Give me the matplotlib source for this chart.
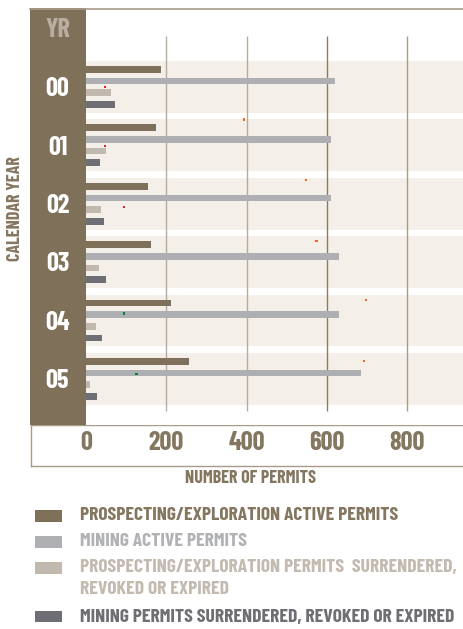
import matplotlib
matplotlib.use("Agg")
import matplotlib.pyplot as plt
from matplotlib.lines import Line2D
from matplotlib.patches import Rectangle

# ---------------- data ----------------
years = ["00", "01", "02", "03", "04", "05"]
prospecting_active = [187, 174, 154, 162, 212, 256]
mining_active = [620, 610, 610, 630, 630, 685]
prospecting_surrendered = [62, 50, 37, 32, 25, 10]
mining_surrendered = [72, 35, 45, 50, 40, 27]
x_ticks = [0, 200, 400, 600, 800]

series_labels = [
    "PROSPECTING/EXPLORATION ACTIVE PERMITS",
    "MINING ACTIVE PERMITS",
    "PROSPECTING/EXPLORATION PERMITS  SURRENDERED,\nREVOKED OR EXPIRED",
    "MINING PERMITS SURRENDERED, REVOKED OR EXPIRED",
]

# small stray marks visible in the source graphic
dot_row = [0, 1, 1, 2, 2, 3, 4, 4, 5, 5]
dot_offset = [0.0, -0.44, 0.01, -0.41, 0.06, -0.36, -0.35, -0.12, -0.31, -0.08]
dot_value = [47, 393, 47, 548, 95, 574, 698, 95, 692, 126]
dot_color = ["#e8192c", "#f26522", "#e8192c", "#f26522", "#e8192c",
             "#f26522", "#f26522", "#00843d", "#f26522", "#00843d"]

# ---------------- style ----------------
BROWN = "#7f705a"
C_PA = "#7f705a"
C_MA = "#aeafb3"
C_PS = "#c1b8ae"
C_MS = "#6e6f74"
BAND = "#f4efe9"
FONT = ["Barlow Condensed", "DejaVu Sans"]
WT = 700

W, H = 464, 629
fig = plt.figure(figsize=(W / 100, H / 100), dpi=100)
fig.patch.set_facecolor("white")


def fx(px):
    return px / W


def fy(py):
    return 1 - py / H


ROW = 58.4          # px per row
Y0 = 86.9           # px centre of first row
top_px, bot_px = 8, 425
ylim = ((bot_px - Y0) / ROW, (top_px - Y0) / ROW)
xmax = (W - 86) / 80.3 * 200

# main axes
ax = fig.add_axes([fx(86), fy(bot_px), 1 - fx(86), (bot_px - top_px) / H])
ax.set_xlim(0, xmax)
ax.set_ylim(*ylim)
ax.set_facecolor("white")
for s in ax.spines.values():
    s.set_visible(False)

n = len(years)
rows = list(range(n))
for r in rows:
    ax.axhspan(r - 0.443, r + 0.443, xmin=0, xmax=1, color=BAND, lw=0, zorder=0)

grid_cols = {200: "#b7ab9d", 400: "#b7ab9d", 600: "#8a7b66", 800: "#a89b8a"}
g_top = (36 - Y0) / ROW
g_bot = (411 - Y0) / ROW
for t in x_ticks[1:]:
    ax.vlines(t, g_top, g_bot, color=grid_cols[t], lw=1.0, zorder=1)

offsets = [-0.30, -0.10, 0.10, 0.30]
bh = 0.115
series = [prospecting_active, mining_active, prospecting_surrendered, mining_surrendered]
colors = [C_PA, C_MA, C_PS, C_MS]
for vals, off, c in zip(series, offsets, colors):
    ax.barh([r + off for r in rows], vals, height=bh, color=c, lw=0, zorder=2)

ax.scatter(dot_value, [r + o for r, o in zip(dot_row, dot_offset)],
           s=3, marker="s", c=dot_color, lw=0, zorder=3)

ax.set_yticks([])
ax.set_xticks(x_ticks)
ax.set_xticklabels([str(t) for t in x_ticks], fontfamily=FONT,
                   fontweight=WT, fontsize=19, color="#857660")
ax.tick_params(axis="x", length=0, pad=4)

# left brown panel
axl = fig.add_axes([fx(30), fy(bot_px), fx(86 - 30), (bot_px - top_px) / H])
axl.set_facecolor(BROWN)
axl.set_xlim(0, 1)
axl.set_ylim(*ylim)
axl.set_xticks([])
axl.set_yticks([])
for s in axl.spines.values():
    s.set_visible(False)
for r, yr in zip(rows, years):
    axl.text(0.49, r + 0.04, yr, ha="center", va="center", color="white",
             fontfamily=FONT, fontweight=WT, fontsize=19)
axl.text(0.49, (30 - Y0) / ROW, "YR", ha="center", va="center", color="#b9ae9f",
         fontfamily=FONT, fontweight=WT, fontsize=19)

# bottom box
axb = fig.add_axes([fx(31), fy(466), 1.05 - fx(31), (466 - 425) / H], zorder=-1)
axb.set_xticks([])
axb.set_yticks([])
axb.set_facecolor("none")
for s in axb.spines.values():
    s.set_color("#a89b8a")
    s.set_linewidth(1.0)

# top rule
fig.add_artist(Line2D([fx(30), 1], [fy(8.6), fy(8.6)], color="#a89b8a", lw=1.2))

# axis titles
fig.text(fx(251), fy(478.7), "NUMBER OF PERMITS", ha="center", va="center",
         color="#857660", fontfamily=FONT, fontweight=WT, fontsize=13)
fig.text(fx(15.5), fy(209), "CALENDAR YEAR", ha="center", va="center", rotation=90,
         color="#857660", fontfamily=FONT, fontweight=WT, fontsize=13)

# legend
leg_text_cols = ["#85765f", "#b1b2b6", "#c3bab0", "#6e6f74"]
leg_patch_y = [516, 542, 568, 616.5]
leg_text_y = [516, 541.5, 568, 617.5]
for lab, pc, tc, py, ty in zip(series_labels, colors, leg_text_cols, leg_patch_y, leg_text_y):
    fig.add_artist(Rectangle((fx(35), fy(py + 5.8)), fx(27), 11.6 / H,
                             color=pc, lw=0, transform=fig.transFigure))
    lines = lab.split("\n")
    for k, ln in enumerate(lines):
        fig.text(fx(80), fy(ty + k * 22), ln, ha="left", va="center", color=tc,
                 fontfamily=FONT, fontweight=WT, fontsize=14.1)

fig.savefig("out.png", dpi=100)
